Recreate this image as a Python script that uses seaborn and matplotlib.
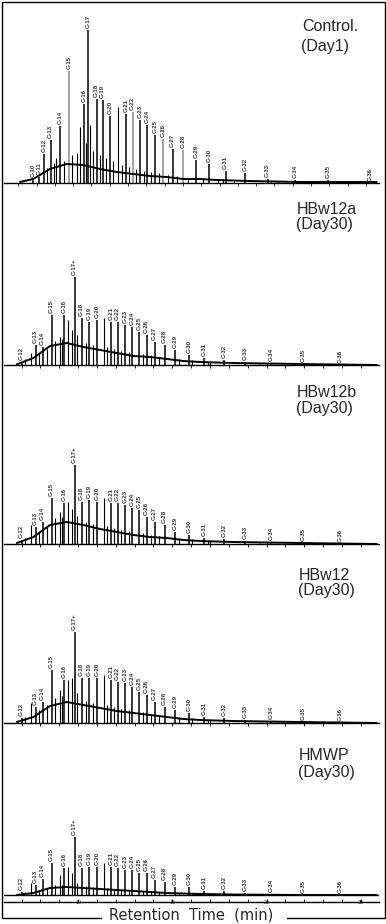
import numpy as np
import pandas as pd
import matplotlib
matplotlib.use("Agg")
import matplotlib.pyplot as plt
import seaborn as sns
from matplotlib.patches import Rectangle

sns.set_style("white")
plt.rcParams["font.family"] = ["Liberation Sans", "DejaVu Sans"]

# ==================== data ====================
# n-alkane labels
ctrl_labels = ["C-10", "C-11", "C-12", "C-13", "C-14", "C-15", "C-16", "C-17", "C-18", "C-19",
               "C-20", "C-21", "C-22", "C-23", "C-24", "C-25", "C-26", "C-27", "C-28", "C-29",
               "C-30", "C-31", "C-32", "C-33", "C-34", "C-35", "C-36"]
ctrl_rt = [6.82, 7.13, 7.42, 7.77, 8.28, 8.77, 9.59, 9.83, 10.28, 10.61,
           11.01, 11.89, 12.25, 12.65, 13.05, 13.47, 13.92, 14.44, 15.02, 15.71,
           16.44, 17.33, 18.39, 19.63, 21.12, 22.94, 25.22]
ctrl_height = [4, 6, 29, 43, 57, 112, 79, 153, 84, 83,
               67, 69, 71, 63, 58, 48, 44, 34, 33, 23,
               19, 12, 10, 4, 3, 3, 0]
ctrl_grey = ["C-15", "C-22", "C-26", "C-28"]

ctrl_minor_rt = [7.55, 7.95, 8.05, 8.5, 8.95, 9.2, 9.37, 9.7, 9.92, 10.1, 10.45, 10.8, 11.2, 11.46,
                 11.65, 12.05, 12.45, 12.85, 13.25, 13.7, 14.2, 14.7, 15.3, 16.1, 16.9, 17.2, 17.8,
                 19.8, 20.2]
ctrl_minor_height = [15, 20, 25, 22, 28, 30, 56, 40, 58, 32, 28, 25, 22, 76,
                     18, 16, 14, 12, 11, 10, 8, 7, 5, 4, 3, 4, 3, 2, 2]

ctrl_hump_rt = [6.09, 6.82, 7.73, 8.64, 9.55, 10.46, 11.38, 12.28, 13.20, 14.11, 15.02, 15.93,
                16.84, 18.66, 21.39, 25.58]
ctrl_hump = [1, 4, 14, 19, 18, 14, 11, 9, 7, 6, 4, 4, 3, 2, 1, 1]

# day 30 samples share retention times
d30_labels = ["C-12", "C-13", "C-14", "C-15", "C-16", "C-17+", "C-18", "C-19", "C-20", "C-21",
              "C-22", "C-23", "C-24", "C-25", "C-26", "C-27", "C-28", "C-29", "C-30", "C-31",
              "C-32", "C-33", "C-34", "C-35", "C-36"]
d30_rt = [7.0, 7.75, 8.12, 8.60, 9.27, 9.82, 10.19, 10.60, 11.02, 11.74,
          12.10, 12.49, 12.88, 13.25, 13.64, 14.06, 14.60, 15.16, 15.90, 16.70,
          17.76, 18.88, 20.26, 21.95, 23.92]
hbw12a_height = [3, 20, 18, 50, 50, 88, 47, 43, 45, 43, 43, 40, 38, 33, 30, 23, 20, 15, 10, 7, 5, 3, 2, 1, 0]
hbw12b_height = [4, 17, 22, 46, 41, 79, 42, 44, 42, 41, 41, 39, 36, 34, 27, 22, 19, 12, 9, 6, 5, 3, 2, 1, 0]
hbw12_height = [5, 16, 21, 53, 43, 91, 45, 45, 45, 43, 41, 40, 36, 31, 28, 21, 16, 13, 10, 6, 5, 3, 2, 1, 0]
hmwp_height = [3, 10, 16, 32, 27, 58, 27, 28, 28, 28, 27, 25, 25, 22, 22, 15, 13, 8, 8, 4, 4, 2, 1, 0, 0]

d30_minor_rt = [7.2, 7.49, 7.95, 8.35, 8.8, 9.05, 9.15, 9.49, 9.67, 9.95, 10.4, 10.8, 11.38, 11.55,
                11.9, 12.3, 12.7, 13.45, 13.85, 14.3, 15.35, 16.05, 16.9, 17.0, 19.6, 20.0]
hbw12a_minor = [6, 12, 12, 16, 24, 28, 26, 45, 35, 30, 22, 20, 47, 18, 16, 14, 13, 11, 10, 8, 6, 5, 3, 3, 1, 2]
hbw12b_minor = [6, 19, 12, 17, 26, 32, 27, 42, 35, 28, 22, 20, 46, 18, 16, 14, 13, 11, 9, 8, 6, 5, 3, 3, 1, 2]
hbw12_minor = [6, 20, 13, 18, 25, 33, 27, 43, 45, 30, 22, 20, 48, 18, 16, 14, 13, 11, 9, 8, 6, 5, 3, 3, 1, 2]
hmwp_minor = [3, 12, 5, 7, 10, 20, 10, 28, 22, 12, 9, 8, 32, 7, 6, 5, 5, 4, 3, 3, 2, 2, 1, 1, 0.5, 0.5]

d30_hump_rt = [6.75, 7.63, 8.51, 9.40, 10.28, 11.17, 12.05, 12.94, 13.82, 14.71, 15.59, 16.47,
               18.24, 21.78, 25.85]
hbw12a_hump = [0.7, 7, 19, 22, 18, 15, 12, 9, 8, 6, 4, 3, 2, 1, 0]
hbw12b_hump = [1, 7, 19, 22, 19, 15, 12, 9, 7, 6, 4, 3, 2, 1, 0]
hbw12_hump = [1, 6, 17, 21, 18, 15, 12, 10, 8, 6, 4, 3, 2, 1, 0]
hmwp_hump = [0, 2, 7, 8, 7, 6, 5, 4, 3, 2, 1.5, 1, 0.5, 0, 0]

sample_names = ["Control.", "HBw12a", "HBw12b", "HBw12", "HMWP"]
sample_days = ["(Day1)", "(Day30)", "(Day30)", "(Day30)", "(Day30)"]
rt_ticks = [10, 15, 20, 25]

# ==================== layout (pixels) ====================
W, H = 386, 924
fig = plt.figure(figsize=(W / 100, H / 100), dpi=100)

# (bottom px, top px, xlim, label x px, name baseline px, day baseline px)
panels = [
    (183, 2, (5.22, 25.71), 302, 31, 51),
    (365, 192, (6.07, 25.97), 297, 214, 229),
    (544, 372, (6.07, 25.97), 297, 397, 413),
    (723, 551, (6.07, 25.97), 299, 580, 595),
    (902, 729, (6.07, 25.97), 299, 760, 777),
]

series = [
    (ctrl_labels, ctrl_rt, ctrl_height, ctrl_minor_rt, ctrl_minor_height, ctrl_hump_rt, ctrl_hump),
    (d30_labels, d30_rt, hbw12a_height, d30_minor_rt, hbw12a_minor, d30_hump_rt, hbw12a_hump),
    (d30_labels, d30_rt, hbw12b_height, d30_minor_rt, hbw12b_minor, d30_hump_rt, hbw12b_hump),
    (d30_labels, d30_rt, hbw12_height, d30_minor_rt, hbw12_minor, d30_hump_rt, hbw12_hump),
    (d30_labels, d30_rt, hmwp_height, d30_minor_rt, hmwp_minor, d30_hump_rt, hmwp_hump),
]

for i, (pan, ser) in enumerate(zip(panels, series)):
    bot, top, xlim, lx, ny, dy = pan
    labels, rt, hts, mrt, mht, hrt, hh = ser
    ph = bot - top
    ax = fig.add_axes([4 / W, 1 - bot / H, 375 / W, ph / H])
    last = i == len(panels) - 1
    off = 7 if last else 0

    ax.set_xlim(*xlim)
    ax.set_ylim(-off, ph - off)

    colors = ["#8a8a8a" if (i == 0 and lab in ctrl_grey) else "black" for lab in labels]
    ax.vlines(mrt, 0, mht, color="black", lw=0.8)
    ax.vlines(rt, 0, hts, color=colors, lw=1.1)
    hump_df = pd.DataFrame({"rt": hrt, "h": hh})
    sns.lineplot(data=hump_df, x="rt", y="h", ax=ax, color="black", lw=1.4, sort=False)
    if last:
        ax.axhline(0, color="black", lw=1.0)

    for lab, t, h in zip(labels, rt, hts):
        ax.text(t, h + 2, lab, rotation=90, ha="center", va="bottom",
                fontsize=4.3, fontweight="bold", color="#333333")

    for s in ["top", "left", "right"]:
        ax.spines[s].set_visible(False)
    ax.spines["bottom"].set_linewidth(1.0)
    ax.spines["bottom"].set_color("black")
    ax.set_yticks([])
    ticks = np.arange(np.ceil(xlim[0]), xlim[1] + 0.01, 1)
    ax.set_xticks(ticks, minor=True)
    if last:
        ax.set_xticks(rt_ticks)
        ax.set_xticklabels([str(t) for t in rt_ticks], fontsize=3.8)
        ax.tick_params(axis="x", which="both", direction="in", length=2.0, width=0.6,
                       color="black", pad=-1.5, bottom=True)
    else:
        ax.set_xticks([])
        ax.tick_params(axis="x", which="both", direction="out", length=2.0, width=0.6,
                       color="black", bottom=True)
    ax.set_xlabel("")
    ax.set_ylabel("")
    ax.patch.set_alpha(0)

    fig.text(lx / W, 1 - ny / H, sample_names[i], fontsize=11.5, va="baseline", ha="left")
    fig.text((lx - 1) / W, 1 - dy / H, sample_days[i], fontsize=11.5, va="baseline", ha="left")

# outer frame
fig.add_artist(Rectangle((1.5 / W, 1 - 918 / H), 383 / W, 916.5 / H, transform=fig.transFigure,
                         fill=False, lw=1.0, edgecolor="black"))
# white patch behind the axis title, interrupting the frame
fig.add_artist(Rectangle((102 / W, 0), 185 / W, 1 - 910 / H, transform=fig.transFigure,
                         facecolor="white", edgecolor="none", zorder=5))
fig.text(191 / W, 1 - 919.5 / H, "Retention  Time  (min)", fontsize=10.5, family="DejaVu Sans",
         ha="center", va="baseline", zorder=6)

fig.savefig("out.png", dpi=100)
